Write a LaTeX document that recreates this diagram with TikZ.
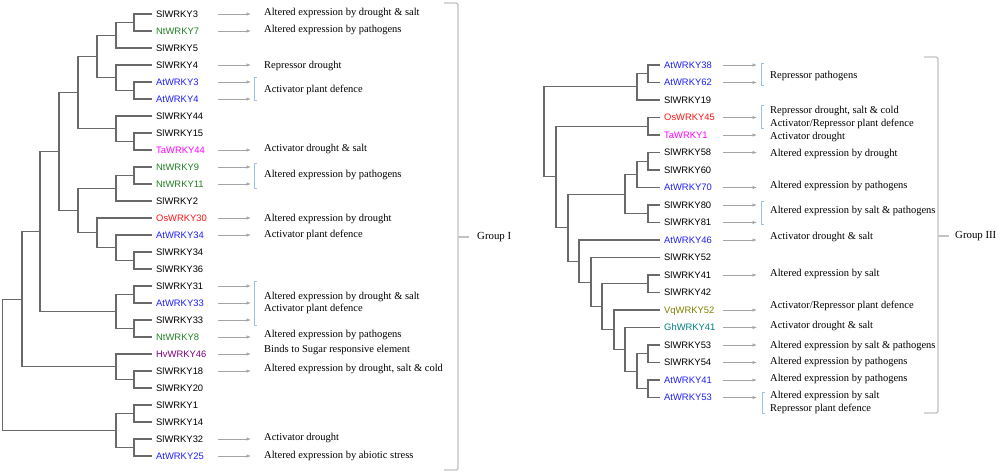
\documentclass[tikz,border=0pt]{standalone}
\usepackage{fontspec}
\setmainfont{Liberation Serif}
\newfontfamily\genefont{Liberation Sans}
\usetikzlibrary{arrows.meta}
\usetikzlibrary{calc}
\usetikzlibrary{positioning}

\definecolor{ntgreen}{RGB}{34,130,34}
\definecolor{atblue}{RGB}{30,30,255}
\definecolor{osred}{RGB}{255,20,20}
\definecolor{tamag}{RGB}{255,0,255}
\definecolor{hvpurple}{RGB}{128,0,128}
\definecolor{vqolive}{RGB}{128,128,0}
\definecolor{ghteal}{RGB}{0,128,128}
\definecolor{treegray}{RGB}{105,105,105}
\definecolor{arrgray}{RGB}{165,165,165}
\definecolor{brkblue}{RGB}{155,194,230}
\definecolor{brkgray}{RGB}{195,195,195}

% join two children at depth #2
\newcommand\clade[4]{%
  \path let \p1=($(#3)!.5!(#4)$) in (#2pt,\y1) coordinate (#1);
  \draw[branch] (#1) |- (#3) (#1) |- (#4);}

\begin{document}
\begin{tikzpicture}[
        x=1pt, y=-1pt,
        branch/.style={treegray, line width=1.1pt},
        leaf/.style={anchor=west, inner xsep=4pt, inner ysep=0pt, text height=6.7pt, text depth=0pt,
                     font=\genefont\fontsize{9.4}{11}\selectfont},
        arr/.style={arrgray, line width=0.8pt, -{Latex[length=4.5pt,width=3.5pt]}},
        note/.style={anchor=west, inner sep=0pt, align=left, font=\fontsize{10.5}{12.5}\selectfont},
        grp/.style={anchor=west, inner sep=0pt, font=\fontsize{10.8}{12}\selectfont},
        sbrk/.style={brkblue, line width=0.8pt},
        bbrk/.style={brkgray, line width=1.3pt, rounded corners=2pt},
    ]
    \useasboundingbox[fill=white] (0,0) rectangle (1000,474);

    % Group I leaves
    \foreach \g/\c [count=\i] in {SlWRKY3/black,NtWRKY7/ntgreen,SlWRKY5/black,SlWRKY4/black,
        AtWRKY3/atblue,AtWRKY4/atblue,SlWRKY44/black,SlWRKY15/black,TaWRKY44/tamag,
        NtWRKY9/ntgreen,NtWRKY11/ntgreen,SlWRKY2/black,OsWRKY30/osred,AtWRKY34/atblue,
        SlWRKY34/black,SlWRKY36/black,SlWRKY31/black,AtWRKY33/atblue,SlWRKY33/black,
        NtWRKY8/ntgreen,HvWRKY46/hvpurple,SlWRKY18/black,SlWRKY20/black,SlWRKY1/black,
        SlWRKY14/black,SlWRKY32/black,AtWRKY25/atblue}
        \node[leaf, text=\c] (\g) at (152,{14+17*(\i-1)}) {\g};

    \clade{I1}{134}{SlWRKY3}{NtWRKY7}
    \clade{I2}{116}{I1}{SlWRKY5}
    \clade{I3}{134}{AtWRKY3}{AtWRKY4}
    \clade{I4}{116}{SlWRKY4}{I3}
    \clade{I5}{97}{I2}{I4}
    \clade{I6}{134}{SlWRKY15}{TaWRKY44}
    \clade{I7}{116}{SlWRKY44}{I6}
    \clade{I8}{78}{I5}{I7}
    \clade{I9}{134}{NtWRKY9}{NtWRKY11}
    \clade{I10}{116}{I9}{SlWRKY2}
    \clade{I11}{134}{SlWRKY34}{SlWRKY36}
    \clade{I12}{116}{AtWRKY34}{I11}
    \clade{I13}{97}{OsWRKY30}{I12}
    \clade{I14}{78}{I10}{I13}
    \clade{I15}{59}{I8}{I14}
    \clade{I16}{134}{SlWRKY31}{AtWRKY33}
    \clade{I17}{134}{SlWRKY33}{NtWRKY8}
    \clade{I18}{116}{I16}{I17}
    \clade{I19}{40}{I15}{I18}
    \clade{I20}{134}{SlWRKY18}{SlWRKY20}
    \clade{I21}{116}{HvWRKY46}{I20}
    \clade{I22}{22}{I19}{I21}
    \clade{I23}{134}{SlWRKY1}{SlWRKY14}
    \clade{I24}{134}{SlWRKY32}{AtWRKY25}
    \clade{I25}{116}{I23}{I24}
    \clade{rootI}{2.5}{I22}{I25}

    \coordinate (tailI) at (218,0);
    \coordinate (headI) at (251,0);
    \foreach \g in {SlWRKY3,NtWRKY7,SlWRKY4,AtWRKY3,AtWRKY4,TaWRKY44,NtWRKY9,NtWRKY11,
        OsWRKY30,AtWRKY34,SlWRKY31,AtWRKY33,SlWRKY33,NtWRKY8,HvWRKY46,SlWRKY18,SlWRKY32,AtWRKY25}
        \draw[arr] (\g -| tailI) -- (\g -| headI);

    \node[note] (nI1) at (264,12.5) {Altered expression by drought \& salt};
    \node[note] (nI2) at (264,29.5) {Altered expression by pathogens};
    \node[note] (nI3) at (264,66) {Repressor drought};
    \node[note] (nI4) at (264,90) {Activator plant defence};
    \node[note] (nI5) at (264,149) {Activator drought \& salt};
    \node[note] (nI6) at (264,174.5) {Altered expression by pathogens};
    \node[note] (nI7) at (264,218.5) {Altered expression by drought};
    \node[note] (nI8) at (264,235) {Activator plant defence};
    \node[note] (nI9) at (264,303) {Altered expression by drought \& salt\\Activator plant defence};
    \node[note] (nI10) at (264,335) {Altered expression by pathogens};
    \node[note] (nI11) at (264,350) {Binds to Sugar responsive element};
    \node[note] (nI12) at (264,369) {Altered expression by drought, salt \& cold};
    \node[note] (nI13) at (264,438) {Activator drought};
    \node[note] (nI14) at (264,456) {Altered expression by abiotic stress};

    \draw[sbrk] (257,77) -- (254,77) -- (254,100) -- (257,100);
    \draw[sbrk] (257,163) -- (254,163) -- (254,188) -- (257,188);
    \draw[sbrk] (257,281) -- (254,281) -- (254,325) -- (257,325);

    \draw[bbrk] (444,3) -- (458,3) -- (458,470) -- (444,470);
    \coordinate (kI) at (458,237);
    \node[grp] (gI) at (477,237) {Group I};
    \draw[bbrk, shorten >=8pt] (kI) -- (gI);

    % Group III leaves
    \foreach \g/\c [count=\i] in {AtWRKY38/atblue,AtWRKY62/atblue,SlWRKY19/black,OsWRKY45/osred,
        TaWRKY1/tamag,SlWRKY58/black,SlWRKY60/black,AtWRKY70/atblue,SlWRKY80/black,
        SlWRKY81/black,AtWRKY46/atblue,SlWRKY52/black,SlWRKY41/black,SlWRKY42/black,
        VqWRKY52/vqolive,GhWRKY41/ghteal,SlWRKY53/black,SlWRKY54/black,AtWRKY41/atblue,AtWRKY53/atblue}
        \node[leaf, text=\c] (\g) at (660,{65+17.5*(\i-1)}) {\g};

    \clade{III1}{648}{AtWRKY38}{AtWRKY62}
    \clade{III2}{637}{III1}{SlWRKY19}
    \clade{III3}{648}{OsWRKY45}{TaWRKY1}
    \clade{III4}{648}{SlWRKY58}{SlWRKY60}
    \clade{III5}{637}{III4}{AtWRKY70}
    \clade{III6}{648}{SlWRKY80}{SlWRKY81}
    \clade{III7}{625}{III5}{III6}
    \clade{III8}{648}{SlWRKY53}{SlWRKY54}
    \clade{III9}{648}{AtWRKY41}{AtWRKY53}
    \clade{III10}{637}{III8}{III9}
    \clade{III11}{625}{GhWRKY41}{III10}
    \clade{III12}{614}{VqWRKY52}{III11}
    \clade{III13}{648}{SlWRKY41}{SlWRKY42}
    \clade{III14}{602}{III13}{III12}
    \clade{III15}{591}{SlWRKY52}{III14}
    \clade{III16}{579}{AtWRKY46}{III15}
    \clade{III17}{568}{III7}{III16}
    \clade{III18}{556}{III3}{III17}
    \clade{rootIII}{544}{III2}{III18}

    \coordinate (tailIII) at (723,0);
    \coordinate (headIII) at (757,0);
    \foreach \g in {AtWRKY38,AtWRKY62,OsWRKY45,TaWRKY1,SlWRKY58,AtWRKY70,SlWRKY80,SlWRKY81,
        AtWRKY46,SlWRKY41,VqWRKY52,GhWRKY41,SlWRKY53,SlWRKY54,AtWRKY41,AtWRKY53}
        \draw[arr] (\g -| tailIII) -- (\g -| headIII);

    \node[note] (nIII1) at (770,76) {Repressor pathogens};
    \node[note] (nIII2) at (770,117.5) {Repressor drought, salt \& cold\\Activator/Repressor plant defence};
    \node[note] (nIII3) at (770,137) {Activator drought};
    \node[note] (nIII4) at (770,154) {Altered expression by drought};
    \node[note] (nIII5) at (770,186) {Altered expression by pathogens};
    \node[note] (nIII6) at (770,211) {Altered expression by salt \& pathogens};
    \node[note] (nIII7) at (770,236.5) {Activator drought \& salt};
    \node[note] (nIII8) at (770,274) {Altered expression by salt};
    \node[note] (nIII9) at (770,306) {Activator/Repressor plant defence};
    \node[note] (nIII10) at (770,326) {Activator drought \& salt};
    \node[note] (nIII11) at (770,346) {Altered expression by salt \& pathogens};
    \node[note] (nIII12) at (770,362) {Altered expression by pathogens};
    \node[note] (nIII13) at (770,379) {Altered expression by pathogens};
    \node[note] (nIII14) at (770,402.5) {Altered expression by salt\\Repressor plant defence};

    \draw[sbrk] (764,63) -- (761,63) -- (761,85) -- (764,85);
    \draw[sbrk] (764,105) -- (761,105) -- (761,128) -- (764,128);
    \draw[sbrk] (764,201) -- (761,201) -- (761,224) -- (764,224);
    \draw[sbrk] (765,392) -- (762,392) -- (762,413) -- (765,413);

    \draw[bbrk] (924,57) -- (938,57) -- (938,413) -- (924,413);
    \coordinate (kIII) at (938,236);
    \node[grp] (gIII) at (955,236) {Group III};
    \draw[bbrk, shorten >=6pt] (kIII) -- (gIII);
\end{tikzpicture}
\end{document}
